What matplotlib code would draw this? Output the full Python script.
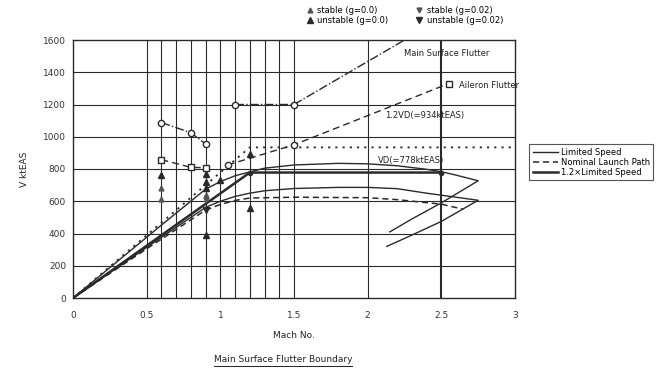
import matplotlib
matplotlib.use("Agg")
import matplotlib.pyplot as plt
from matplotlib.lines import Line2D

# Daten
mach_lim = [0, 0.3, 0.6, 0.9, 1.0, 1.1, 1.2, 1.3, 1.5, 1.8, 2.0, 2.2, 2.4, 2.6, 2.75, 2.5, 2.3, 2.13]
v_lim = [0, 188, 376, 562, 600, 630, 650, 665, 679, 686, 686, 678, 650, 625, 606, 475, 390, 320]

mach_lim12 = [0, 0.3, 0.6, 0.9, 1.0, 1.1, 1.2, 1.3, 1.5, 1.8, 2.0, 2.2, 2.4, 2.5, 2.6, 2.75, 2.5, 2.3, 2.15]
v_lim12 = [0, 226, 452, 675, 722, 758, 782, 805, 825, 835, 832, 820, 798, 783, 762, 727, 590, 490, 410]

mach_launch = [0, 0.5, 0.9, 1.0, 1.1, 1.2, 1.5, 2.0, 2.2, 2.5, 2.65]
v_launch = [0, 305, 545, 580, 605, 620, 625, 622, 610, 582, 550]

mach_vd = [0, 1.2, 2.5]
v_vd = [0, 778, 778]

mach_vd12 = [0, 1.2, 3.0]
v_vd12 = [0, 934, 934]

# main surface flutter
mach_msf_a = [0.6, 0.8, 0.9]
v_msf_a = [1088, 1025, 955]
mach_msf_b = [1.1, 1.5, 2.25]
v_msf_b = [1200, 1200, 1600]

# aileron flutter
mach_ail_a = [0.6, 0.8, 0.9]
v_ail_a = [858, 810, 808]
mach_ail_b = [1.05, 1.5, 2.55]
v_ail_b = [825, 950, 1330]

# flutter punkte
st0_m = [0.6, 0.6, 0.9]
st0_v = [680, 612, 640]
un0_m = [0.6, 0.9, 0.9, 0.9, 1.0, 1.2, 1.2, 0.9]
un0_v = [765, 770, 722, 680, 730, 890, 558, 390]
st2_m = [0.9]
st2_v = [610]
un2_m = [0.9]
un2_v = [545]

dot_m = [1.2, 2.5]
dot_v = [778, 778]

fig = plt.figure(figsize=(6.59, 3.69), dpi=100)
ax = fig.add_axes([73/659, 1-298/369, 442/659, 258/369])

col = "#2a2a2a"

# gitter
for x in [0.5, 0.6, 0.7, 0.8, 0.9, 1.0, 1.1, 1.2, 1.3, 1.4, 1.5, 2.0]:
    ax.axvline(x, color=col, lw=0.8, zorder=1)
ax.axvline(2.5, color=col, lw=1.5, zorder=1)
for y in range(200, 1600, 200):
    ax.axhline(y, color=col, lw=0.8, zorder=1)

ax.plot(mach_lim, v_lim, color=col, lw=1.0, zorder=3)
ax.plot(mach_lim12, v_lim12, color=col, lw=1.0, zorder=3)
ax.plot(mach_launch, v_launch, color=col, lw=1.1, ls=(0, (4, 2.5)), zorder=3)
ax.plot(mach_vd, v_vd, color=col, lw=1.8, zorder=3)
ax.plot(mach_vd12, v_vd12, color=col, lw=1.3, ls=(0, (1.2, 2.8)), zorder=3)
ax.plot(dot_m, dot_v, "o", color=col, ms=3, zorder=4)

ax.plot(mach_msf_a, v_msf_a, color=col, lw=1.0, ls="-.", marker="o", ms=4.5, mfc="white", zorder=4)
ax.plot(mach_msf_b, v_msf_b, color=col, lw=1.0, ls="-.", marker="o", markevery=[0, 1], ms=4.5, mfc="white", zorder=4)
ax.plot(mach_ail_a, v_ail_a, color=col, lw=1.0, ls=(0, (5, 3)), marker="s", ms=4.5, mfc="white", zorder=4)
ax.plot(mach_ail_b, v_ail_b, color=col, lw=1.0, ls=(0, (5, 3)), marker="o", ms=4.5, mfc="white", markevery=[0, 1], zorder=4)
ax.plot(mach_ail_b[-1:], v_ail_b[-1:], "s", color=col, ms=4.5, mfc="white", zorder=4)

ax.plot(st0_m, st0_v, "^", color="#555555", ms=3.5, ls="none", zorder=5)
ax.plot(un0_m, un0_v, "^", color=col, ms=5, ls="none", zorder=5)
ax.plot(st2_m, st2_v, "v", color="#555555", ms=3.5, ls="none", zorder=5)
ax.plot(un2_m, un2_v, "v", color=col, ms=5, ls="none", zorder=5)

ax.set_xlim(0, 3)
ax.set_ylim(0, 1600)
ax.set_xticks([0, 0.5, 1, 1.5, 2, 2.5, 3])
ax.set_xticklabels(["0", "0.5", "1", "1.5", "2", "2.5", "3"])
ax.set_yticks(range(0, 1601, 200))
ax.tick_params(length=0, labelsize=6.5, pad=5, colors="#333333")
ax.tick_params(axis="x", pad=9)
for s in ax.spines.values():
    s.set_color(col)
    s.set_linewidth(1.0)

ax.set_xlabel("Mach No.", fontsize=6.5, labelpad=8, color="#222222")
ax.set_ylabel("V ktEAS", fontsize=6.5, labelpad=10, color="#222222")

ax.text(2.25, 1500, "Main Surface Flutter", fontsize=6, color="#222222")
ax.text(2.62, 1300, "Aileron Flutter", fontsize=6, color="#222222")
ax.text(2.12, 1115, "1.2VD(=934ktEAS)", fontsize=6, color="#222222")
ax.text(2.07, 840, "VD(=778ktEAS)", fontsize=6, color="#222222")

# legende oben
h_top = [
    Line2D([], [], ls="none", marker="^", color="#555555", ms=3.5),
    Line2D([], [], ls="none", marker="^", color=col, ms=5),
    Line2D([], [], ls="none", marker="v", color="#555555", ms=3.5),
    Line2D([], [], ls="none", marker="v", color=col, ms=5),
]
l_top = ["stable (g=0.0)", "unstable (g=0.0)", "stable (g=0.02)", "unstable (g=0.02)"]
fig.legend(h_top, l_top, loc="upper left", bbox_to_anchor=(298/659, 1.005), ncol=2,
           frameon=False, fontsize=6, handlelength=1, handletextpad=0.4,
           columnspacing=3.2, labelspacing=0.2)

# legende rechts
h_right = [
    Line2D([], [], color=col, lw=1.0),
    Line2D([], [], color=col, lw=1.1, ls=(0, (4, 2.5))),
    Line2D([], [], color=col, lw=1.8),
]
l_right = ["Limited Speed", "Nominal Launch Path", "1.2\u00d7Limited Speed"]
leg = fig.legend(h_right, l_right, loc="upper left", bbox_to_anchor=(525/659, 1-140/369),
                 frameon=True, fancybox=False, fontsize=6, handlelength=3,
                 handletextpad=0.4, labelspacing=0.15, borderpad=0.4)
leg.get_frame().set_edgecolor(col)
leg.get_frame().set_linewidth(0.8)

# titel unten, unterstrichen
t = fig.text(283/659, 1-362/369, "Main Surface Flutter Boundary", fontsize=6.5,
             ha="center", va="baseline", color="#222222")
fig.canvas.draw()
bb = t.get_window_extent().transformed(fig.transFigure.inverted())
fig.add_artist(Line2D([bb.x0, bb.x1], [bb.y0 - 0.006, bb.y0 - 0.006], color="#222222", lw=0.7))

fig.savefig("out.png", dpi=100)
